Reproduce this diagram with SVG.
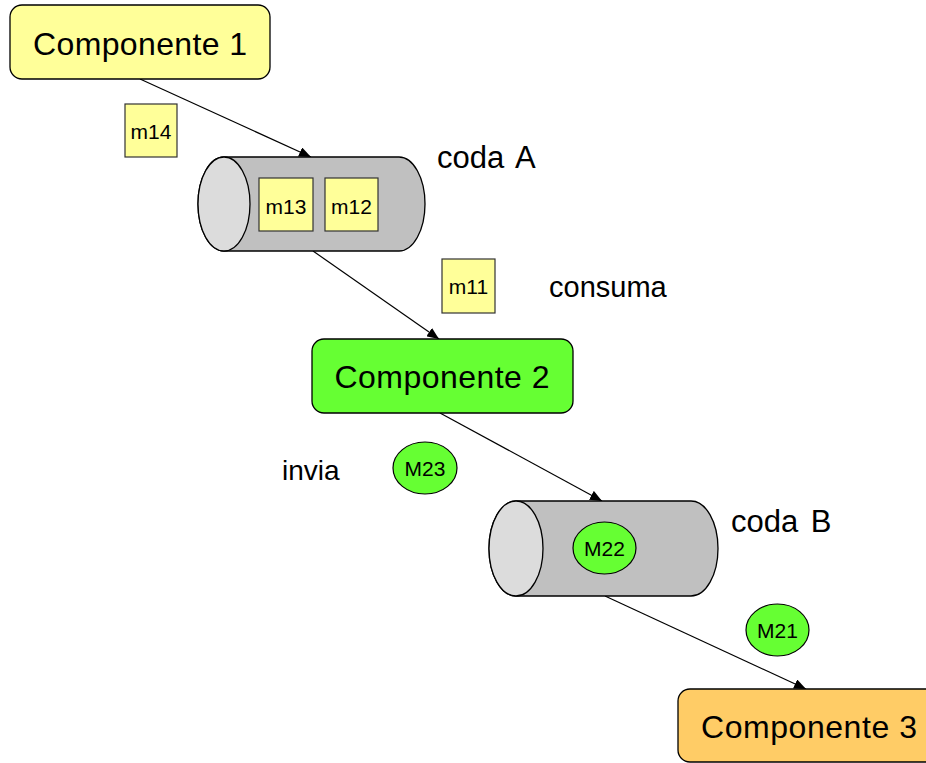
<svg xmlns="http://www.w3.org/2000/svg" width="926" height="763" viewBox="0 0 926 763">
  <defs>
    <marker id="arrow" viewBox="0 0 12 10" refX="12" refY="5" markerWidth="12" markerHeight="10" markerUnits="userSpaceOnUse" orient="auto">
      <path d="M0,0 L12,5 L0,10 Z" fill="#000"/>
    </marker>
    <style>
      .comp { stroke: #000; stroke-width: 1.3; }
      .label { font-family: "Liberation Sans", Arial, sans-serif; fill: #000; }
      .big { font-size: 32px; text-anchor: middle; }
      .side { font-size: 28px; }
      .coda { font-size: 31px; word-spacing: 4px; }
      .msg { font-size: 21px; text-anchor: middle; }
      .sq { fill: #ffff99; stroke: #333; stroke-width: 1.2; }
      .oval { fill: #66ff33; stroke: #000; stroke-width: 1.2; }
      .body { fill: #c0c0c0; stroke: #000; stroke-width: 1.3; }
      .cap { fill: #dcdcdc; stroke: #000; stroke-width: 1.3; }
      .edge { stroke: #000; stroke-width: 1.2; fill: none; marker-end: url(#arrow); }
    </style>
  </defs>
  <rect width="926" height="763" fill="#fff"/>

  <!-- connectors -->
  <g id="connectors">
    <line class="edge" x1="140" y1="79" x2="311" y2="157"/>
    <line class="edge" x1="313" y1="251" x2="439" y2="339"/>
    <line class="edge" x1="440" y1="413" x2="602" y2="501"/>
    <line class="edge" x1="605" y1="596" x2="806" y2="689"/>
  </g>

  <g id="componente1">
    <rect class="comp" x="10" y="5" width="260" height="74" rx="12" fill="#ffff99"/>
    <text class="label big" x="140" y="55" textLength="214">Componente 1</text>
  </g>

  <g id="m14">
    <rect class="sq" x="125" y="104" width="52" height="53"/>
    <text class="label msg" x="151" y="138.5">m14</text>
  </g>

  <g id="codaA">
    <path class="body" d="M224,157 L399,157 A26,47 0 0 1 399,251 L224,251 A26,47 0 0 1 224,157 Z"/>
    <ellipse class="cap" cx="224" cy="204" rx="26" ry="47"/>
    <text class="label coda" x="437" y="168">coda A</text>
  </g>

  <g id="m13">
    <rect class="sq" x="259" y="178" width="54" height="53"/>
    <text class="label msg" x="286" y="213.5">m13</text>
  </g>

  <g id="m12">
    <rect class="sq" x="325" y="178" width="53" height="53"/>
    <text class="label msg" x="351.5" y="213.5">m12</text>
  </g>

  <g id="m11">
    <rect class="sq" x="442" y="259" width="53" height="54"/>
    <text class="label msg" x="468.5" y="294">m11</text>
  </g>

  <g id="consuma">
    <text class="label side" x="549" y="297" style="font-size:29px">consuma</text>
  </g>

  <g id="componente2">
    <rect class="comp" x="312" y="339" width="261" height="74" rx="12" fill="#66ff33"/>
    <text class="label big" x="442" y="388" textLength="215">Componente 2</text>
  </g>

  <g id="invia">
    <text class="label side" x="282" y="480">invia</text>
  </g>

  <g id="M23">
    <ellipse class="oval" cx="425" cy="468" rx="32" ry="26"/>
    <text class="label msg" x="425" y="475.5">M23</text>
  </g>

  <g id="codaB">
    <path class="body" d="M516,501 L691,501 A27,47.5 0 0 1 691,596 L516,596 A27,47.5 0 0 1 516,501 Z"/>
    <ellipse class="cap" cx="516" cy="548.5" rx="27" ry="47.5"/>
    <text class="label coda" x="731" y="532">coda B</text>
  </g>

  <g id="M22">
    <ellipse class="oval" cx="604.5" cy="548" rx="31.5" ry="26"/>
    <text class="label msg" x="604.5" y="555.5">M22</text>
  </g>

  <g id="M21">
    <ellipse class="oval" cx="777.5" cy="630" rx="31.5" ry="26"/>
    <text class="label msg" x="777.5" y="637.5">M21</text>
  </g>

  <g id="componente3">
    <rect class="comp" x="678" y="689" width="270" height="73" rx="12" fill="#ffcc66"/>
    <text class="label big" x="809" y="738" textLength="216">Componente 3</text>
  </g>
</svg>
